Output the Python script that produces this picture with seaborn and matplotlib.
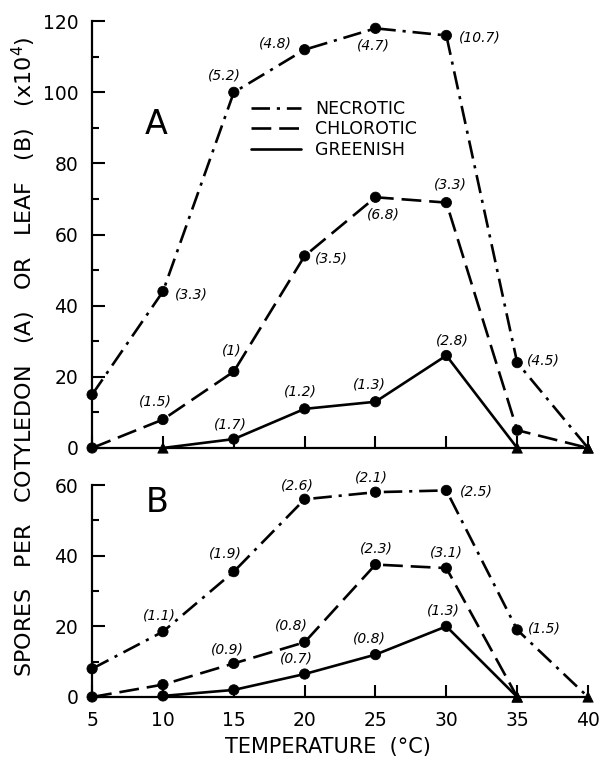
import numpy as np
import pandas as pd
import matplotlib
matplotlib.use("Agg")
import matplotlib.pyplot as plt
from matplotlib.lines import Line2D
import seaborn as sns

# Temperatures (deg C)
temps = [5, 10, 15, 20, 25, 30, 35, 40]
temps_green = [10, 15, 20, 25, 30, 35]
temps_b_chlor = [5, 10, 15, 20, 25, 30, 35]

# Panel A : spores per cotyledon (x10^4)
a_necrotic = [15, 44, 100, 112, 118, 116, 24, 0]
a_chlorotic = [0, 8, 21.5, 54, 70.5, 69, 5, 0]
a_greenish = [0, 2.5, 11, 13, 26, 0]

# Panel B : spores per leaf (x10^4)
b_necrotic = [8, 18.5, 35.5, 56, 58, 58.5, 19, 0]
b_chlorotic = [0, 3.5, 9.5, 15.5, 37.5, 36.5, 0]
b_greenish = [0.3, 2, 6.5, 12, 20, 0]

# values in parentheses next to points
a_necrotic_lab = [None, "(3.3)", "(5.2)", "(4.8)", "(4.7)", "(10.7)", "(4.5)", None]
a_chlorotic_lab = [None, "(1.5)", "(1)", "(3.5)", "(6.8)", "(3.3)", None, None]
a_greenish_lab = [None, "(1.7)", "(1.2)", "(1.3)", "(2.8)", None]
b_necrotic_lab = [None, "(1.1)", "(1.9)", "(2.6)", "(2.1)", "(2.5)", "(1.5)", None]
b_chlorotic_lab = [None, None, "(0.9)", "(0.8)", "(2.3)", "(3.1)", None]
b_greenish_lab = [None, None, "(0.7)", "(0.8)", "(1.3)", None]

# label offsets (pixels, dx, dy)
a_necrotic_off = [None, (28, -3), (-9, 17), (-29, 6), (-2, -17), (33, -2), (26, 2), None]
a_chlorotic_off = [None, (-8, 18), (-2, 21), (27, -3), (8, -17), (4, 18), None, None]
a_greenish_off = [None, (-3, 15), (-4, 17), (-6, 17), (6, 15), None]
b_necrotic_off = [None, (-4, 16), (-8, 18), (-7, 14), (-4, 15), (30, -1), (27, 1), None]
b_chlorotic_off = [None, None, (-6, 14), (-13, 17), (1, 16), (0, 16), None]
b_greenish_off = [None, None, (-8, 16), (-6, 16), (-3, 16), None]

types = ["NECROTIC", "CHLOROTIC", "GREENISH"]

rows = []
series = [
    ("A", "NECROTIC", temps, a_necrotic, a_necrotic_lab, a_necrotic_off),
    ("A", "CHLOROTIC", temps, a_chlorotic, a_chlorotic_lab, a_chlorotic_off),
    ("A", "GREENISH", temps_green, a_greenish, a_greenish_lab, a_greenish_off),
    ("B", "NECROTIC", temps, b_necrotic, b_necrotic_lab, b_necrotic_off),
    ("B", "CHLOROTIC", temps_b_chlor, b_chlorotic, b_chlorotic_lab, b_chlorotic_off),
    ("B", "GREENISH", temps_green, b_greenish, b_greenish_lab, b_greenish_off),
]
for panel, typ, xs, ys, labs, offs in series:
    for x, y, lab, off in zip(xs, ys, labs, offs):
        mk = "tri" if (y == 0 and x > 5) else "dot"
        rows.append(dict(panel=panel, type=typ, temp=x, spores=y, lab=lab, off=off, mk=mk))
df = pd.DataFrame(rows)

sns.set_style("ticks")
plt.rcParams["font.family"] = ["DejaVu Sans"]
for k in ["text.color", "axes.labelcolor", "xtick.color", "ytick.color", "axes.edgecolor"]:
    plt.rcParams[k] = "black"

LW = 1.9
dash_map = {"NECROTIC": (7, 2.6, 1.2, 2.6), "CHLOROTIC": (7.5, 3), "GREENISH": ""}

fig = plt.figure(figsize=(6.1, 7.58), dpi=100)
ax_a = fig.add_axes([0.151, 0.409, 0.813, 0.563])
ax_b = fig.add_axes([0.151, 0.0805, 0.813, 0.2795])

for ax, panel, ymax in [(ax_a, "A", 120), (ax_b, "B", 60)]:
    sub = df[df.panel == panel]
    sns.lineplot(data=sub, x="temp", y="spores", style="type", units="type",
                 estimator=None, dashes=dash_map, color="black", lw=LW,
                 legend=False, ax=ax, sort=False)
    for ln in ax.lines:
        ln.set_clip_on(False)
        ln.set_dash_capstyle("butt")
    sns.scatterplot(data=sub, x="temp", y="spores", style="mk",
                    markers={"dot": "o", "tri": "^"}, color="black",
                    edgecolor="black", s=55, legend=False, ax=ax, clip_on=False, zorder=5)
    for _, r in sub.iterrows():
        if r.lab is None:
            continue
        ax.annotate(r.lab, (r.temp, r.spores), xytext=(r.off[0] * 0.72, r.off[1] * 0.72),
                    textcoords="offset points", ha="center", va="center",
                    fontsize=10, style="italic")

    ax.set_xlim(5, 40)
    ax.set_ylim(0, ymax)
    ax.set_xticks(temps)
    ax.set_yticks(np.arange(0, ymax + 1, 20))
    ax.set_yticks(np.arange(10, ymax, 20), minor=True)
    ax.tick_params(axis="both", which="major", direction="in", length=9, width=1.5,
                   labelsize=13.5, pad=10)
    ax.tick_params(axis="y", which="minor", direction="in", length=5, width=1.5)
    sns.despine(ax=ax)
    for sp in ["left", "bottom"]:
        ax.spines[sp].set_linewidth(1.6)
    ax.set_xlabel("")
    ax.set_ylabel("")

ax_a.tick_params(axis="x", labelbottom=False)
ax_a.text(9.5, 91, "A", fontsize=24, ha="center", va="center")
ax_b.text(9.6, 55, "B", fontsize=24, ha="center", va="center")

handles = [Line2D([], [], color="black", lw=LW, linestyle=(0, dash_map["NECROTIC"])),
           Line2D([], [], color="black", lw=LW, linestyle=(0, dash_map["CHLOROTIC"])),
           Line2D([], [], color="black", lw=LW, linestyle="-")]
ax_a.legend(handles, types, loc="center left", bbox_to_anchor=(16.2, 89.6),
            bbox_transform=ax_a.transData, frameon=False, fontsize=12.5,
            handlelength=2.9, handletextpad=0.8, labelspacing=0.15, borderpad=0,
            borderaxespad=0)

fig.text(0.538, 0.0145, "TEMPERATURE  (\u00b0C)", ha="center", va="center", fontsize=15)
fig.text(0.04, 0.529, "SPORES   PER   COTYLEDON   (A)   OR   LEAF   (B)   (x10$^4$)",
         rotation=90, ha="center", va="center", fontsize=16)

fig.savefig("out.png", dpi=100)
